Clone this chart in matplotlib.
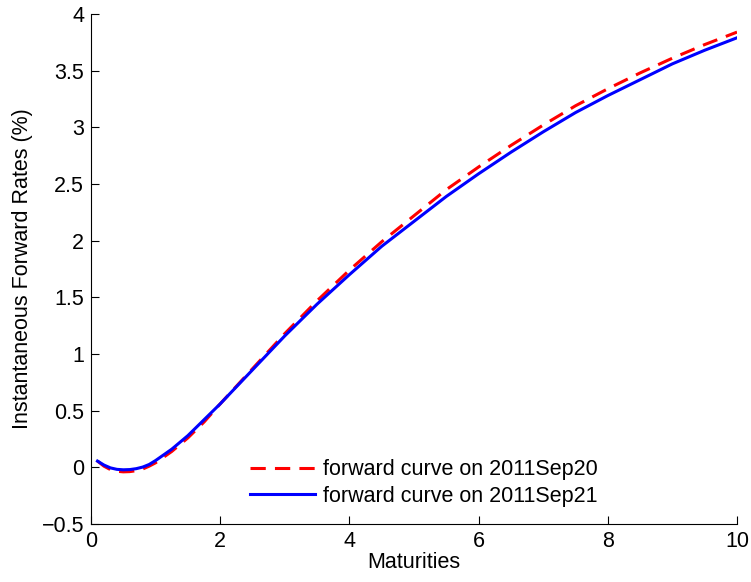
import matplotlib.pyplot as plt

plt.rcParams['font.family'] = ['Liberation Sans', 'DejaVu Sans']

maturities = [0.1, 0.2, 0.3, 0.4, 0.5, 0.6, 0.7, 0.8, 0.9, 1.0, 1.25, 1.5, 1.75, 2.0, 2.5, 3.0, 3.5,
              4.0, 4.5, 5.0, 5.5, 6.0, 6.5, 7.0, 7.5, 8.0, 8.5, 9.0, 9.5, 10.0]
curve_sep20 = [0.055, 0.01, -0.02, -0.035, -0.04, -0.038, -0.03, -0.015, 0.01, 0.04, 0.14, 0.26, 0.40, 0.56,
               0.87, 1.18, 1.47, 1.74, 1.99, 2.22, 2.45, 2.65, 2.84, 3.02, 3.19, 3.34, 3.48, 3.61, 3.73, 3.84]
curve_sep21 = [0.055, 0.02, -0.005, -0.018, -0.022, -0.02, -0.012, 0.002, 0.025, 0.06, 0.16, 0.28, 0.42, 0.56,
               0.86, 1.16, 1.44, 1.70, 1.95, 2.17, 2.39, 2.59, 2.78, 2.96, 3.13, 3.28, 3.42, 3.56, 3.68, 3.79]

fig = plt.figure(figsize=(7.51, 5.82), dpi=100)
ax = fig.add_axes([0.1212, 0.0997, 0.8602, 0.8763])

ax.plot(maturities, curve_sep20, color='red', lw=2.2, linestyle=(0, (5, 3)),
        label='forward curve on 2011Sep20')
ax.plot(maturities, curve_sep21, color='blue', lw=2.2, label='forward curve on 2011Sep21')

ax.set_xlim(0, 10)
ax.set_ylim(-0.5, 4)
ax.set_xticks([0, 2, 4, 6, 8, 10])
ax.set_yticks([-0.5, 0, 0.5, 1, 1.5, 2, 2.5, 3, 3.5, 4])
ax.set_yticklabels(['\u22120.5', '0', '0.5', '1', '1.5', '2', '2.5', '3', '3.5', '4'])
ax.tick_params(direction='in', length=6, labelsize=15.5, pad=5)
ax.spines['top'].set_visible(False)
ax.spines['right'].set_visible(False)

ax.set_xlabel('Maturities', fontsize=15.5, labelpad=0)
ax.set_ylabel('Instantaneous Forward Rates (%)', fontsize=15.5, labelpad=6)

ax.legend(loc='lower left', bbox_to_anchor=(0.216, -0.004), frameon=False, fontsize=15.5,
          handlelength=3.0, handletextpad=0.4, labelspacing=0.25, borderpad=0.4)

fig.savefig('out.png', dpi=100)
